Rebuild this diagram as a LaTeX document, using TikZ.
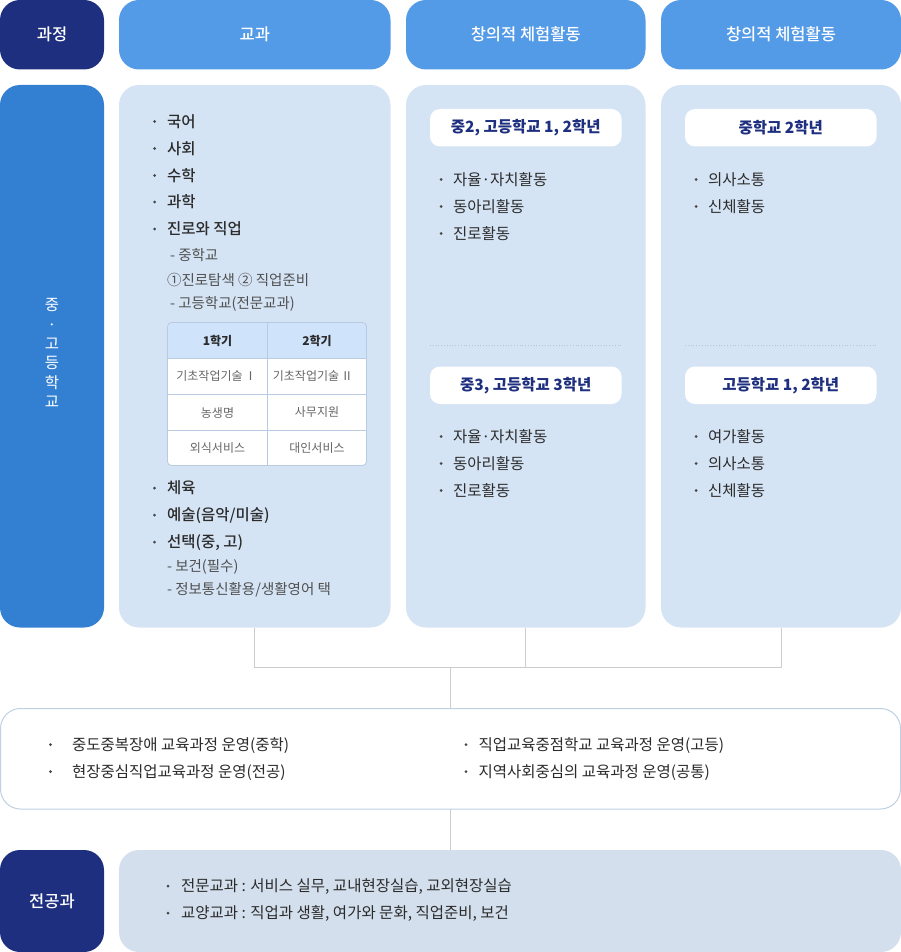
\documentclass[tikz,border=0pt]{standalone}
\usepackage{fontspec}
\setmainfont{Noto Sans CJK KR}
\newfontfamily\medfont{Noto Sans CJK KR Medium}
\definecolor{navy}{HTML}{1F2F7F}
\definecolor{hblue}{HTML}{539AE7}
\definecolor{sblue}{HTML}{3380D2}
\definecolor{blight}{HTML}{D5E4F5}
\definecolor{bmaj}{HTML}{D3DFED}
\definecolor{txtc}{HTML}{2B2B2B}
\definecolor{subc}{HTML}{505050}
\definecolor{bulc}{HTML}{444444}
\definecolor{tbord}{HTML}{B9CBE0}
\definecolor{thead}{HTML}{CFE3FB}
\definecolor{cellc}{HTML}{666666}
\definecolor{connc}{HTML}{CCCCCC}
\definecolor{midb}{HTML}{BFD0E3}
\definecolor{dotc}{HTML}{B3C4D8}
\tikzset{
  box/.style={rectangle, rounded corners=20pt, inner sep=0pt, outer sep=0pt, anchor=north west},
  hdrtxt/.style={text=white, font=\medfont\fontsize{16.5}{19}\selectfont},
  subbox/.style={box, fill=white, rounded corners=10pt, minimum width=191.5pt, minimum height=37.5pt,
     text=navy, font=\bfseries\fontsize{15.5}{18}\selectfont},
  bt/.style={anchor=base west, inner sep=0pt, outer sep=0pt, yshift=-5.6pt, text=txtc, font=\fontsize{15.5}{18}\selectfont},
  btm/.style={bt, font=\medfont\fontsize{15.5}{18}\selectfont},
  st/.style={anchor=base west, inner sep=0pt, outer sep=0pt, yshift=-5.2pt, text=subc, font=\fontsize{14.5}{17}\selectfont},
  ct/.style={inner sep=0pt, text=cellc, font=\fontsize{12}{14}\selectfont},
  cth/.style={inner sep=0pt, text=txtc, font=\bfseries\fontsize{12}{14}\selectfont},
  conn/.style={draw=connc, line width=1pt},
  tline/.style={draw=tbord, line width=0.8pt},
}
\newcommand\bitem[6][bt]{\fill[bulc] (#3,#5) circle (1.5pt); \node[#1] (#2) at (#4,#5) {#6};}
\begin{document}
\begin{tikzpicture}[x=1pt,y=-1pt]
\useasboundingbox (0,0) rectangle (901,952);
% header row
\node[box, fill=navy, minimum width=104pt, minimum height=69.5pt, hdrtxt] (hProc) at (0,0) {과정};
\node[box, fill=hblue, minimum width=271.5pt, minimum height=69.5pt, hdrtxt] (hSubj) at (119,0) {교과};
\node[box, fill=hblue, minimum width=239.5pt, minimum height=69.5pt, hdrtxt] (hCr1) at (406,0) {창의적 체험활동};
\node[box, fill=hblue, minimum width=240pt, minimum height=69.5pt, hdrtxt] (hCr2) at (661,0) {창의적 체험활동};
% body row
\node[box, fill=sblue, minimum width=104pt, minimum height=542.5pt] (sSchool) at (0,85) {};
\node[box, fill=blight, minimum width=271.5pt, minimum height=542.5pt] (bSubj) at (119,85) {};
\node[box, fill=blight, minimum width=239.5pt, minimum height=542.5pt] (bCr1) at (406,85) {};
\node[box, fill=blight, minimum width=240pt, minimum height=542.5pt] (bCr2) at (661,85) {};
\node[align=center, text=white, font=\fontsize{15.5}{19.3}\selectfont, inner sep=0pt] (vtxt) at (52,353) {중\\·\\고\\등\\학\\교};
% connectors
\coordinate (jn) at (452,667.5);
\node[box, fill=white, draw=midb, line width=1pt, minimum width=900pt, minimum height=100.5pt] (mid) at (0.5,708.5) {};
\node[box, fill=navy, minimum width=104pt, minimum height=102pt, hdrtxt] (sMajor) at (0,850) {전공과};
\node[box, fill=bmaj, minimum width=782pt, minimum height=102pt] (bMajor) at (119,850) {};
\draw[conn] (bSubj.south) |- (bCr2.south |- jn) -- (bCr2.south);
\draw[conn] (bCr1.south) -- (bCr1.south |- jn);
\draw[conn] (mid.north) -- (mid.north |- jn);
\draw[conn] (mid.south) -- (mid.south |- bMajor.north);
% column 2 content
\bitem[btm]{s1}{154.5}{167}{121.5}{국어}
\bitem[btm]{s2}{154.5}{167}{148.5}{사회}
\bitem[btm]{s3}{154.5}{167}{175.5}{수학}
\bitem[btm]{s4}{154.5}{167}{202}{과학}
\bitem[btm]{s5}{154.5}{167}{229}{진로와 직업}
\node[st] (s5a) at (170,255.5) {- 중학교};
\node[st] (s5b) at (167,280) {①진로탐색 ② 직업준비};
\node[st] (s5c) at (170,303.5) {- 고등학교(전문교과)};
% table
\node[box, fill=white, rounded corners=4pt, minimum width=199pt, minimum height=143pt] (tbl) at (167.5,322.5) {};
\begin{scope}
\clip[rounded corners=4pt] (167.5,322.5) rectangle (366.5,465.5);
\fill[thead] (167.5,322.5) rectangle (366.5,358.5);
\end{scope}
\draw[tline] (167.5,358.5) -- (366.5,358.5);
\draw[tline] (167.5,394.5) -- (366.5,394.5);
\draw[tline] (167.5,430.5) -- (366.5,430.5);
\draw[tline] (267.5,322.5) -- (267.5,465.5);
\draw[tline, rounded corners=4pt] (tbl.north west) rectangle (tbl.south east);
\node[cth] (c11) at (217.5,340.5) {1학기};
\node[cth] (c12) at (317,340.5) {2학기};
\node[ct] (c21) at (216.5,376.5) {기초작업기술\,Ⅰ};
\node[ct] (c22) at (313,376.5) {기초작업기술\,Ⅱ};
\node[ct] (c31) at (217.5,412.5) {농생명};
\node[ct] (c32) at (317,412.5) {사무지원};
\node[ct] (c41) at (217.5,448) {외식서비스};
\node[ct] (c42) at (317,448) {대인서비스};
\bitem[btm]{s6}{154.5}{167}{488}{체육}
\bitem[btm]{s7}{154.5}{167}{515}{예술(음악/미술)}
\bitem[btm]{s8}{154.5}{167}{542}{선택(중, 고)}
\node[st] (s8a) at (167,566.5) {- 보건(필수)};
\node[st] (s8b) at (167,589.5) {- 정보통신활용/생활영어 택};
% column 3
\node[subbox] (sh1) at (430,109) {중2, 고등학교 1, 2학년};
\bitem{a1}{441}{453}{179.5}{자율·자치활동}
\bitem{a2}{441}{453}{206.5}{동아리활동}
\bitem{a3}{441}{453}{233.5}{진로활동}
\draw[dotc, line width=0.8pt, dash pattern=on 0.8pt off 2pt] (430,345.5) -- (621.5,345.5);
\node[subbox] (sh3) at (430,366.5) {중3, 고등학교 3학년};
\bitem{a4}{441}{453}{436.5}{자율·자치활동}
\bitem{a5}{441}{453}{463.5}{동아리활동}
\bitem{a6}{441}{453}{490.5}{진로활동}
% column 4
\node[subbox] (sh2) at (685,109) {중학교 2학년};
\bitem{b1}{696}{708}{179.5}{의사소통}
\bitem{b2}{696}{708}{206.5}{신체활동}
\draw[dotc, line width=0.8pt, dash pattern=on 0.8pt off 2pt] (685,345.5) -- (876.5,345.5);
\node[subbox] (sh4) at (685,366.5) {고등학교 1, 2학년};
\bitem{b3}{696}{708}{436.5}{여가활동}
\bitem{b4}{696}{708}{463.5}{의사소통}
\bitem{b5}{696}{708}{490.5}{신체활동}
% middle box
\bitem{m1}{50.5}{72}{744.5}{중도중복장애 교육과정 운영(중학)}
\bitem{m2}{50.5}{72}{771.5}{현장중심직업교육과정 운영(전공)}
\bitem{m3}{466}{478.5}{744.5}{직업교육중점학교 교육과정 운영(고등)}
\bitem{m4}{466}{478.5}{771.5}{지역사회중심의 교육과정 운영(공통)}
% bottom box
\bitem{j1}{168}{181}{886}{전문교과 : 서비스 실무, 교내현장실습, 교외현장실습}
\bitem{j2}{168}{181}{913}{교양교과 : 직업과 생활, 여가와 문화, 직업준비, 보건}
\end{tikzpicture}
\end{document}
